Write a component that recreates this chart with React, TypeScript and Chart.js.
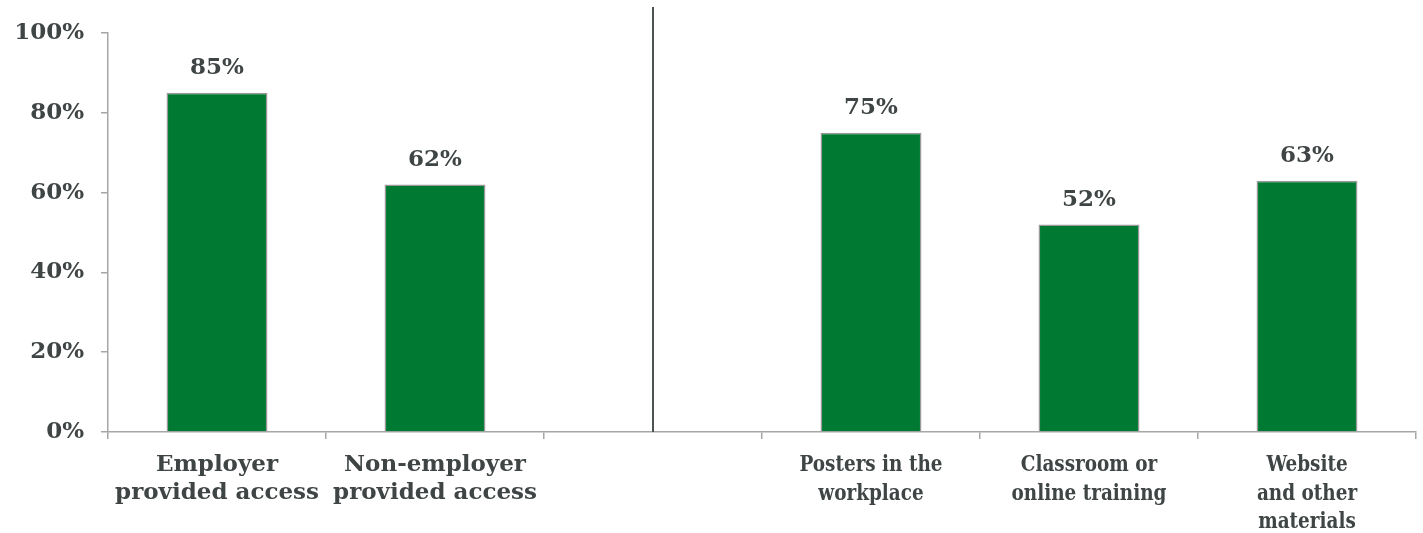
import React, { useEffect, useRef } from "react";
import { Chart, registerables } from "chart.js";

Chart.register(...registerables);

const categories: (string | string[])[] = [
  ["Employer", "provided access"],
  ["Non-employer", "provided access"],
  "",
  ["Posters in the", "workplace"],
  ["Classroom or", "online training"],
  ["Website", "and other", "materials"],
];
const values: (number | null)[] = [85, 62, null, 75, 52, 63];
const yTicks = [0, 20, 40, 60, 80, 100];
const dividerIndex = 2;
const narrowFrom = 3;

const TEXT = "#3f4545";
const AXIS = "#a6a6a6";
const GREEN = "#007a33";
const FONT = "'DejaVu Serif', serif";
const FONT_COND = "'DejaVu Serif Condensed', 'DejaVu Serif', serif";

export default function App() {
  const ref = useRef<HTMLCanvasElement | null>(null);
  useEffect(() => {
    if (!ref.current) return;
    const labelPlugin = {
      id: "labels",
      afterDatasetsDraw(chart: any) {
        const ctx = chart.ctx;
        const meta = chart.getDatasetMeta(0);
        ctx.save();
        ctx.font = `bold 23px ${FONT}`;
        ctx.fillStyle = TEXT;
        ctx.textAlign = "center";
        ctx.textBaseline = "alphabetic";
        meta.data.forEach((bar: any, i: number) => {
          const v = values[i];
          if (v == null) return;
          ctx.fillText(`${v}%`, bar.x, bar.y - 19);
        });
        ctx.restore();
      },
      afterDraw(chart: any) {
        const ctx = chart.ctx;
        const xs = chart.scales.x;
        const x = xs.getPixelForValue(dividerIndex);
        ctx.save();
        ctx.strokeStyle = "#4d5252";
        ctx.lineWidth = 2;
        ctx.beginPath();
        ctx.moveTo(x, 7);
        ctx.lineTo(x, chart.chartArea.bottom);
        ctx.stroke();
        ctx.restore();

        // narrower category labels on the right-hand group
        ctx.save();
        ctx.font = `bold 23px ${FONT_COND}`;
        ctx.fillStyle = TEXT;
        ctx.textAlign = "center";
        ctx.textBaseline = "alphabetic";
        const sx = 0.89;
        for (let i = narrowFrom; i < categories.length; i++) {
          const lab = categories[i];
          const lines = Array.isArray(lab) ? lab : [lab];
          const cx = xs.getPixelForValue(i);
          lines.forEach((ln, k) => {
            ctx.save();
            ctx.translate(cx, chart.chartArea.bottom + 39 + k * 28.5);
            ctx.scale(sx, 1);
            ctx.fillText(ln, 0, 0);
            ctx.restore();
          });
        }
        ctx.restore();
      },
    };
    const chart = new Chart(ref.current, {
      type: "bar",
      data: {
        labels: categories,
        datasets: [
          {
            data: values,
            backgroundColor: GREEN,
            borderColor: "#999999",
            borderWidth: 1.5,
            categoryPercentage: 1,
            barPercentage: 0.463,
          },
        ],
      },
      options: {
        animation: false,
        responsive: false,
        maintainAspectRatio: false,
        layout: { padding: { top: 33, right: 7, left: 0, bottom: 0 } },
        plugins: { legend: { display: false }, tooltip: { enabled: false } },
        scales: {
          x: {
            grid: {
              offset: true,
              drawOnChartArea: false,
              drawTicks: true,
              tickLength: 7,
              color: AXIS,
              lineWidth: 1.5,
            },
            border: { color: AXIS, width: 1.5 },
            ticks: {
              maxRotation: 0,
              autoSkip: false,
              padding: 12,
              color: (c: any) => (c.index >= narrowFrom ? "rgba(0,0,0,0)" : TEXT),
              font: { family: FONT, size: 23, weight: "bold", lineHeight: "28px" },
            },
            afterFit: (s: any) => {
              s.height = 101;
            },
          },
          y: {
            min: 0,
            max: 100,
            afterBuildTicks: (s: any) => {
              s.ticks = yTicks.map((v) => ({ value: v }));
            },
            grid: {
              drawOnChartArea: false,
              drawTicks: true,
              tickLength: 7,
              color: AXIS,
              lineWidth: 1.5,
            },
            border: { color: AXIS, width: 1.5 },
            ticks: {
              padding: 17,
              color: TEXT,
              font: { family: FONT, size: 23, weight: "bold" },
              callback: (v: any) => `${v}%`,
            },
            afterFit: (s: any) => {
              s.width = 108;
            },
          },
        },
      },
      plugins: [labelPlugin],
    });
    return () => chart.destroy();
  }, []);
  return (
    <div style={{ position: "fixed", left: 0, top: 0, width: 1423, height: 533, background: "#fff" }}>
      <canvas ref={ref} width={1423} height={533} style={{ display: "block" }} />
    </div>
  );
}
